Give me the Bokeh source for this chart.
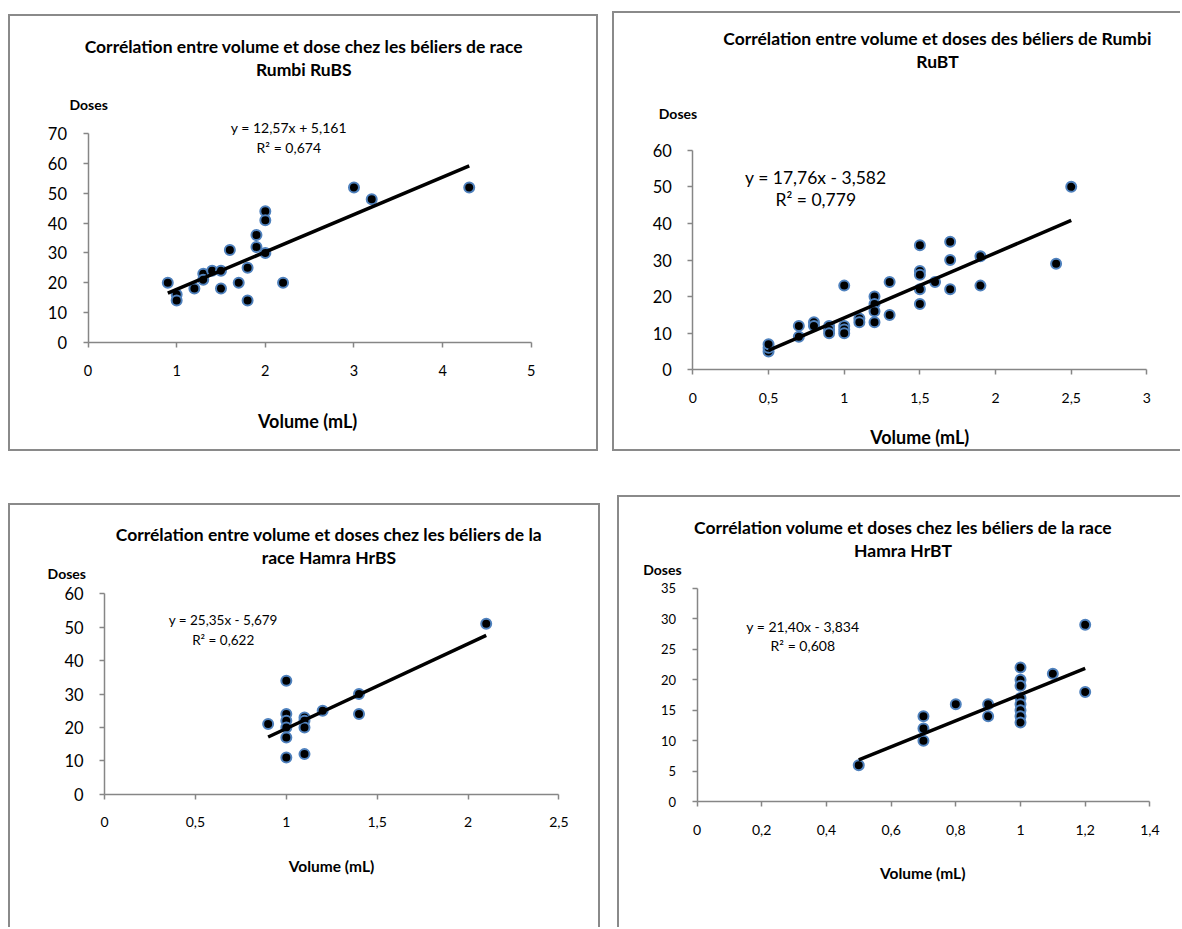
from bokeh.plotting import figure
from bokeh.models import Range1d, FixedTicker, Label
from bokeh.layouts import column, row
from bokeh.embed import file_html
from bokeh.resources import INLINE

# ---------------- data ----------------
RUBS_VOLUME = [0.9, 1.0, 1.0, 1.2, 1.3, 1.3, 1.4, 1.5, 1.5, 1.6, 1.7, 1.8, 1.8,
               1.9, 1.9, 2.0, 2.0, 2.0, 2.2, 3.0, 3.2, 4.3]
RUBS_DOSES = [20, 16, 14, 18, 23, 21, 24, 24, 18, 31, 20, 25, 14,
              36, 32, 44, 41, 30, 20, 52, 48, 52]
RUBS_FIT = [12.57, 5.161]
RUBS_TITLE = ["Corrélation entre volume et dose chez les béliers de race", "Rumbi RuBS"]
RUBS_EQ = ["y = 12,57x + 5,161", "R² = 0,674"]
RUBS_XTICKS = [0, 1, 2, 3, 4, 5]
RUBS_XLABELS = ["0", "1", "2", "3", "4", "5"]
RUBS_YTICKS = [0, 10, 20, 30, 40, 50, 60, 70]

RUBT_VOLUME = [0.5, 0.5, 0.5, 0.7, 0.7, 0.8, 0.8, 0.9, 0.9, 0.9, 1.0, 1.0, 1.0, 1.0,
               1.1, 1.1, 1.2, 1.2, 1.2, 1.2, 1.3, 1.3, 1.5, 1.5, 1.5, 1.5, 1.5, 1.6,
               1.7, 1.7, 1.7, 1.9, 1.9, 2.4, 2.5]
RUBT_DOSES = [5, 6, 7, 12, 9, 13, 12, 12, 11, 10, 23, 12, 11, 10,
              14, 13, 20, 18, 16, 13, 24, 15, 34, 27, 26, 22, 18, 24,
              35, 30, 22, 31, 23, 29, 50]
RUBT_FIT = [17.76, -3.582]
RUBT_TITLE = ["Corrélation entre volume et doses des béliers de Rumbi", "RuBT"]
RUBT_EQ = ["y = 17,76x - 3,582", "R² = 0,779"]
RUBT_XTICKS = [0, 0.5, 1, 1.5, 2, 2.5, 3]
RUBT_XLABELS = ["0", "0,5", "1", "1,5", "2", "2,5", "3"]
RUBT_YTICKS = [0, 10, 20, 30, 40, 50, 60]

HRBS_VOLUME = [0.9, 1.0, 1.0, 1.0, 1.0, 1.0, 1.0, 1.1, 1.1, 1.1, 1.1, 1.2, 1.4, 1.4, 2.1]
HRBS_DOSES = [21, 34, 24, 22, 20, 17, 11, 23, 22, 20, 12, 25, 30, 24, 51]
HRBS_FIT = [25.35, -5.679]
HRBS_TITLE = ["Corrélation entre volume et doses chez les béliers de la", "race Hamra HrBS"]
HRBS_EQ = ["y = 25,35x - 5,679", "R² = 0,622"]
HRBS_XTICKS = [0, 0.5, 1, 1.5, 2, 2.5]
HRBS_XLABELS = ["0", "0,5", "1", "1,5", "2", "2,5"]
HRBS_YTICKS = [0, 10, 20, 30, 40, 50, 60]

HRBT_VOLUME = [0.5, 0.7, 0.7, 0.7, 0.8, 0.9, 0.9, 1.0, 1.0, 1.0, 1.0, 1.0, 1.0, 1.0, 1.0,
               1.1, 1.2, 1.2]
HRBT_DOSES = [6, 14, 12, 10, 16, 16, 14, 22, 20, 19, 17, 16, 15, 14, 13, 21, 29, 18]
HRBT_FIT = [21.40, -3.834]
HRBT_TITLE = ["Corrélation volume et doses chez les béliers de la race", "Hamra HrBT"]
HRBT_EQ = ["y = 21,40x - 3,834", "R² = 0,608"]
HRBT_XTICKS = [0, 0.2, 0.4, 0.6, 0.8, 1.0, 1.2, 1.4]
HRBT_XLABELS = ["0", "0,2", "0,4", "0,6", "0,8", "1", "1,2", "1,4"]
HRBT_YTICKS = [0, 5, 10, 15, 20, 25, 30, 35]

Y_LABEL = "Doses"
X_LABEL = "Volume (mL)"

# ---------------- style ----------------
FONT = "Lato"
AXIS_C = "#868686"
BORDER_C = "#8a8a8a"
MARKER_LINE = "#4F81BD"


def make_panel(vol, dos, fit, title, eq, xticks, xlabels, yticks, geom, fs, shadow):
    ox, oy, W, H = geom["box"]          # page px of the panel box
    fl, fr, ft, fb = geom["frame"]      # page px of the axes rectangle
    xmax = xticks[-1]
    ymax = yticks[-1]
    ppx = (fr - fl) / xmax
    ppy = (fb - ft) / ymax
    xr = Range1d(-(fl - ox) / ppx, xmax + (ox + W - fr) / ppx)
    yr = Range1d(-(oy + H - fb) / ppy, ymax + (ft - oy) / ppy)
    p = figure(width=W, height=H, x_range=xr, y_range=yr,
               output_backend="svg", toolbar_location=None, title=None, min_border=0)
    p.outline_line_color = None
    p.xgrid.visible = False
    p.ygrid.visible = False
    p.border_fill_color = None
    p.background_fill_color = None
    p.styles = {"box-shadow": shadow}

    for ax in (p.xaxis[0], p.yaxis[0]):
        ax.fixed_location = 0
        ax.axis_line_color = AXIS_C
        ax.axis_line_width = 1.5
        ax.major_tick_line_color = AXIS_C
        ax.major_tick_line_width = 1.5
        ax.major_tick_in = 0
        ax.major_tick_out = 5
        ax.minor_tick_line_color = None
        ax.major_label_text_font = FONT
        ax.major_label_text_color = "#000000"
    p.xaxis.bounds = (0, xmax)
    p.yaxis.bounds = (0, ymax)
    p.xaxis.ticker = FixedTicker(ticks=xticks)
    p.xaxis.major_label_overrides = {t: l for t, l in zip(xticks, xlabels)}
    p.xaxis.major_label_text_font_size = fs["xtick"]
    p.xaxis.major_label_standoff = 18
    p.yaxis.ticker = FixedTicker(ticks=yticks)
    p.yaxis.major_label_text_font_size = fs["ytick"]
    p.yaxis.major_label_standoff = 16

    p.scatter(vol, dos, size=10, fill_color="black", line_color=MARKER_LINE, line_width=2)
    x0, x1 = min(vol), max(vol)
    p.line([x0, x1], [fit[0] * x0 + fit[1], fit[0] * x1 + fit[1]],
           line_color="black", line_width=3.5)

    def txt(X, Y, s, size, bold=False, align="center"):
        x, y = (X - fl) / ppx, (fb - Y) / ppy
        p.add_layout(Label(x=x, y=y, text=s, text_font=FONT, text_font_size=size,
                           text_font_style="bold" if bold else "normal",
                           text_align=align, text_baseline="middle", text_color="#000000"))

    tx, ty1, ty2 = geom["title"]
    txt(tx, ty1, title[0], fs["title"], True)
    txt(tx, ty2, title[1], fs["title"], True)
    dx, dy = geom["doses"]
    txt(dx, dy, Y_LABEL, fs["doses"], True, "left")
    ex, ey1, ey2 = geom["eq"]
    txt(ex, ey1, eq[0], fs["eq"])
    txt(ex, ey2, eq[1], fs["eq"])
    vx, vy = geom["vol"]
    txt(vx, vy, X_LABEL, fs["vol"], True)
    return p


# page-pixel geometry (body origin at 0,0)
G1 = dict(box=(8, 14, 590, 437), frame=(87.5, 530.8, 133.3, 341.7),
          title=(303.3, 46, 69), doses=(69, 104), eq=(288.3, 126.7, 146.7), vol=(307.1, 420))
G2 = dict(box=(612, 11, 568, 440), frame=(692.4, 1146.4, 149.7, 369.3),
          title=(937, 38.3, 61), doses=(658.3, 113.3), eq=(815.3, 176.7, 199.3), vol=(919.2, 436))
G3 = dict(box=(8, 503, 592, 424), frame=(104.1, 558.4, 593.3, 793.7),
          title=(328.4, 534, 557.3), doses=(47.1, 573.3), eq=(222.7, 619.3, 639.3), vol=(331, 865))
G4 = dict(box=(617, 495, 563, 432), frame=(696.5, 1149.4, 587.7, 801.3),
          title=(902.5, 526.7, 550), doses=(642.7, 569), eq=(802.3, 626, 645), vol=(922.2, 872.3))

F1 = dict(title="17.5px", doses="14px", eq="14px", ytick="16.5px", xtick="14.5px", vol="18px")
F2 = dict(title="17.5px", doses="14px", eq="17.5px", ytick="16.5px", xtick="14px", vol="18px")
F3 = dict(title="17.5px", doses="14px", eq="13.5px", ytick="16.5px", xtick="14px", vol="15.5px")
F4 = dict(title="17.5px", doses="14px", eq="14px", ytick="13px", xtick="14px", vol="15.5px")

S_ALL = f"inset 2px 2px 0 0 {BORDER_C}, inset -2px -2px 0 0 {BORDER_C}"
S_LTB = f"inset 2px 2px 0 0 {BORDER_C}, inset 0 -2px 0 0 {BORDER_C}"
S_LTR = f"inset 2px 2px 0 0 {BORDER_C}, inset -2px 0 0 0 {BORDER_C}"
S_LT = f"inset 2px 2px 0 0 {BORDER_C}"

p1 = make_panel(RUBS_VOLUME, RUBS_DOSES, RUBS_FIT, RUBS_TITLE, RUBS_EQ,
                RUBS_XTICKS, RUBS_XLABELS, RUBS_YTICKS, G1, F1, S_ALL)
p2 = make_panel(RUBT_VOLUME, RUBT_DOSES, RUBT_FIT, RUBT_TITLE, RUBT_EQ,
                RUBT_XTICKS, RUBT_XLABELS, RUBT_YTICKS, G2, F2, S_LTB)
p3 = make_panel(HRBS_VOLUME, HRBS_DOSES, HRBS_FIT, HRBS_TITLE, HRBS_EQ,
                HRBS_XTICKS, HRBS_XLABELS, HRBS_YTICKS, G3, F3, S_LTR)
p4 = make_panel(HRBT_VOLUME, HRBT_DOSES, HRBT_FIT, HRBT_TITLE, HRBT_EQ,
                HRBT_XTICKS, HRBT_XLABELS, HRBT_YTICKS, G4, F4, S_LT)

p1.margin = (14, 0, 0, 8)
p2.margin = (11, 0, 0, 14)
p3.margin = (52, 0, 0, 8)
p4.margin = (44, 0, 0, 17)

layout = column(row(p1, p2), row(p3, p4))
open("out.html", "w").write(file_html(layout, INLINE))
